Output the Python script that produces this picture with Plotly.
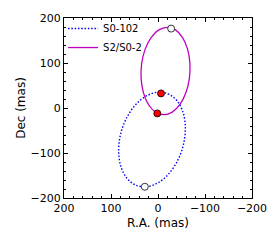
import plotly.graph_objects as go

# Orbit S0-102 (RA, Dec in mas)
s0102_ra = [2.2, -21.2, -40.4, -53.3, -58.1, -54.5, -42.7, -24.2, -1.2, 23.4,
            46.8, 66.0, 78.9, 83.7, 80.1, 68.3, 49.8, 26.8]
s0102_dec = [34.9, 31.6, 16.1, -9.8, -42.9, -79.5, -114.8, -144.7, -165.6, -174.9,
             -171.6, -156.1, -130.2, -97.1, -60.5, -25.2, 4.7, 25.6]

# Orbit S2/S0-2
s2_ra = [-19.6, -37.2, -52.3, -62.9, -67.9, -66.7, -59.3, -46.7, -30.4, -12.4,
         5.2, 20.3, 30.9, 35.9, 34.7, 27.3, 14.7, -1.6]
s2_dec = [179.3, 173.5, 156.6, 130.8, 99.1, 65.3, 33.7, 7.8, -9.1, -14.9,
          -9.1, 7.8, 33.7, 65.3, 99.1, 130.8, 156.6, 173.5]

# current positions (red) and periapse/apoapse markers (open)
red_ra = [-6.4, 1.5]
red_dec = [32.5, -12.0]
open_ra = [-28.0, 28.0]
open_dec = [176.5, -175.0]

x_ticks = [200, 100, 0, -100, -200]
y_ticks = [-200, -100, 0, 100, 200]

FONT = "DejaVu Sans"

fig = go.Figure()
fig.add_trace(go.Scatter(
    x=s0102_ra + s0102_ra[:1], y=s0102_dec + s0102_dec[:1],
    mode="lines", name="S0-102",
    line=dict(color="#0000ff", width=1.4, dash="1.5px,1.8px", shape="spline", smoothing=1.0),
))
fig.add_trace(go.Scatter(
    x=s2_ra + s2_ra[:1], y=s2_dec + s2_dec[:1],
    mode="lines", name="S2/S0-2",
    line=dict(color="#bf00bf", width=1.3, shape="spline", smoothing=1.0),
))
fig.add_trace(go.Scatter(
    x=red_ra, y=red_dec, mode="markers", showlegend=False,
    marker=dict(color="#ff0000", size=7, line=dict(color="black", width=0.8)),
))
fig.add_trace(go.Scatter(
    x=open_ra, y=open_dec, mode="markers", showlegend=False,
    marker=dict(color="white", size=7, line=dict(color="black", width=0.8)),
))

axis_common = dict(
    showgrid=False, zeroline=False, showline=True, linecolor="black", linewidth=1,
    mirror="allticks", ticks="inside", ticklen=4, tickwidth=1, tickcolor="black",
    minor=dict(ticks="inside", ticklen=2, tickcolor="black", tickwidth=0.8),
    tickfont=dict(family=FONT, size=11, color="black"),
    automargin=False,
)

fig.update_xaxes(
    range=[200, -200], tickvals=x_ticks, minor_dtick=20,
    title=dict(text="R.A. (mas)", font=dict(family=FONT, size=12, color="black"), standoff=4),
    **axis_common,
)
fig.update_yaxes(
    range=[-200, 200], tickvals=y_ticks, minor_dtick=20,
    title=dict(text="Dec (mas)", font=dict(family=FONT, size=12, color="black"), standoff=2),
    **axis_common,
)

fig.update_layout(
    width=272, height=237,
    margin=dict(l=56, r=28, t=10, b=47, autoexpand=False),
    paper_bgcolor="white", plot_bgcolor="white",
    font=dict(family=FONT, color="black"),
    legend=dict(x=-0.005, y=1.022, xanchor="left", yanchor="top",
                bgcolor="rgba(0,0,0,0)", font=dict(family=FONT, size=10),
                itemwidth=30, tracegroupgap=0),
    showlegend=True,
)

fig.write_html("out.html")
